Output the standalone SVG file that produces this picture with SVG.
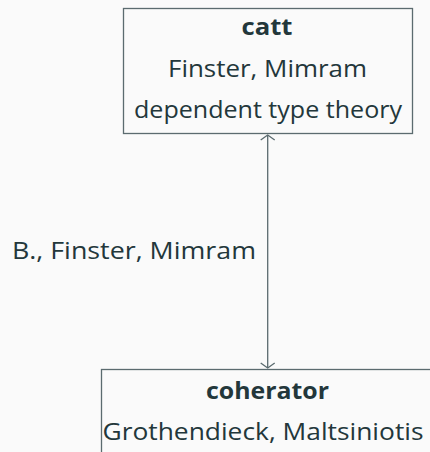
<svg xmlns="http://www.w3.org/2000/svg" width="430" height="452" viewBox="0 0 430 452">
<style>
.t{font-family:"Open Sans","Noto Sans","DejaVu Sans",sans-serif;font-size:24px;fill:#23373b;text-anchor:middle}
.b{font-weight:bold}
.box{fill:none;stroke:#5b6b6f;stroke-width:1.3}
.edge{stroke:#5b6b6f;stroke-width:1.3;fill:none}
</style>
<defs>
<marker id="ah" viewBox="-10 -10 20 20" markerWidth="20" markerHeight="20" refX="0" refY="0" orient="auto-start-reverse" markerUnits="userSpaceOnUse">
<path d="M-5,-7 L0,0 L-5,7" fill="none" stroke="#5b6b6f" stroke-width="1.3"/>
</marker>
</defs>
<rect width="430" height="452" fill="#fafafa"/>
<g id="catt">
<rect class="box" x="123.5" y="8.5" width="289" height="125"/>
<text class="t b" x="267" y="35" textLength="51" lengthAdjust="spacingAndGlyphs">catt</text>
<text class="t" x="267.5" y="77" textLength="199" lengthAdjust="spacingAndGlyphs">Finster, Mimram</text>
<text class="t" x="268" y="118" textLength="268" lengthAdjust="spacingAndGlyphs">dependent type theory</text>
</g>
<g id="coherator">
<rect class="box" x="101.5" y="369.5" width="340" height="100"/>
<text class="t b" x="267.5" y="399" textLength="123" lengthAdjust="spacingAndGlyphs">coherator</text>
<text class="t" x="263" y="440" textLength="321" lengthAdjust="spacingAndGlyphs">Grothendieck, Maltsiniotis</text>
</g>
<g id="connectors">
<line class="edge" x1="267.7" y1="135" x2="267.7" y2="368" marker-start="url(#ah)" marker-end="url(#ah)"/>
<text class="t" x="134" y="259" textLength="244" lengthAdjust="spacingAndGlyphs">B., Finster, Mimram</text>
</g>
</svg>
